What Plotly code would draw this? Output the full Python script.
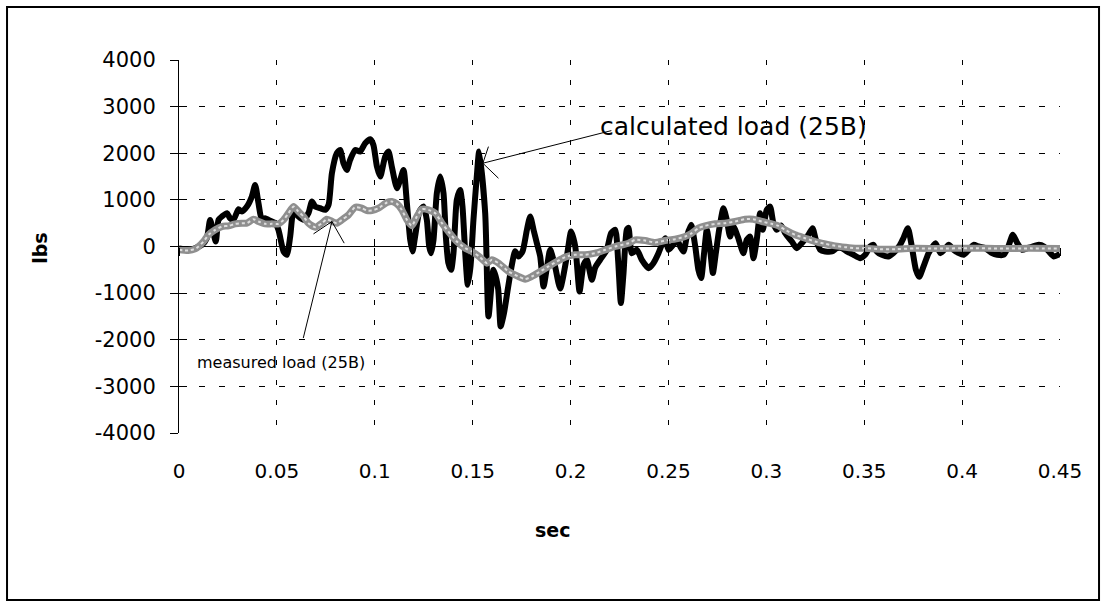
import plotly.graph_objects as go

# ---- data ----
calc_t = [0.000, 0.0066, 0.0117, 0.0142, 0.0159, 0.0176, 0.0188, 0.0202, 0.0219, 0.0245,
          0.0261, 0.0278, 0.0304, 0.0321, 0.0347, 0.0372, 0.0389, 0.0406, 0.0423, 0.0440,
          0.0457, 0.0474, 0.0491, 0.0508, 0.0534, 0.0551, 0.0568, 0.0585, 0.0610, 0.0636,
          0.0661, 0.0679, 0.0696, 0.0721, 0.0747, 0.0764, 0.0781, 0.0806, 0.0823, 0.0840,
          0.0857, 0.0874, 0.0900, 0.0925, 0.0951, 0.0977, 0.0993, 0.1011, 0.1028, 0.1053,
          0.1070, 0.1087, 0.1113, 0.1130, 0.1147, 0.1164, 0.1181, 0.1193, 0.1206, 0.1228,
          0.1249, 0.1266, 0.1278, 0.1288, 0.1300, 0.1317, 0.1334, 0.1351, 0.1363, 0.1376,
          0.1390, 0.1402, 0.1419, 0.1436, 0.1448, 0.1462, 0.1475, 0.1489, 0.1504, 0.1521,
          0.1533, 0.1564, 0.1581, 0.1606, 0.1630, 0.1643, 0.1660, 0.1680, 0.1700, 0.1717,
          0.1734, 0.1755, 0.1777, 0.1794, 0.1811, 0.1828, 0.1845, 0.1862, 0.1880, 0.1896,
          0.1921, 0.1947, 0.1981, 0.2003, 0.2024, 0.2046, 0.2066, 0.2083, 0.2109, 0.2126,
          0.2151, 0.2185, 0.2207, 0.2228, 0.2243, 0.2257, 0.2270, 0.2287, 0.2296, 0.2313,
          0.2339, 0.2364, 0.2398, 0.2423, 0.2449, 0.2466, 0.2483, 0.2500, 0.2517, 0.2543,
          0.2560, 0.2577, 0.2594, 0.2616, 0.2637, 0.2653, 0.2667, 0.2682, 0.2696, 0.2713,
          0.2727, 0.2742, 0.2759, 0.2781, 0.2798, 0.2815, 0.2832, 0.2854, 0.2883, 0.2900,
          0.2917, 0.2934, 0.2951, 0.2968, 0.2982, 0.3002, 0.3019, 0.3036, 0.3054, 0.3075,
          0.3096, 0.3130, 0.3156, 0.3181, 0.3215, 0.3236, 0.3253, 0.3275, 0.3301, 0.3335,
          0.3360, 0.3386, 0.3411, 0.3445, 0.3479, 0.3505, 0.3530, 0.3547, 0.3564, 0.3590,
          0.3624, 0.3649, 0.3683, 0.3700, 0.3723, 0.3743, 0.3764, 0.3781, 0.3803, 0.3829,
          0.3864, 0.3889, 0.3915, 0.3932, 0.3957, 0.3983, 0.4008, 0.4034, 0.4059, 0.4085,
          0.4119, 0.4153, 0.4179, 0.4213, 0.4236, 0.4259, 0.4282, 0.4307, 0.4333, 0.4358,
          0.4392, 0.4418, 0.4443, 0.4469, 0.4500]
calc_load = [-40, -57, 36, 178, 571, 286, 107, 571, 643, 714,
             607, 571, 800, 750, 857, 1071, 1321, 928, 571, 607,
             571, 536, 500, 357, -107, -178, 214, 750, 643, 571,
             714, 964, 857, 821, 786, 893, 1571, 2000, 2071, 1786,
             1643, 1857, 2071, 2036, 2214, 2300, 2178, 1714, 1500, 1928,
             2036, 1714, 1250, 1428, 1643, 928, 143, -107, 214, 750,
             857, 571, 0, -143, 143, 1143, 1500, 1143, 214, -357,
             -500, -143, 1000, 1214, 857, -143, -821, -428, 571, 1500,
             2036, 714, -1500, -500, -900, -1714, -1428, -900, -400, -100,
             -214, -100, 357, 643, 357, 71, -214, -857, -428, -71,
             -428, -900, -214, 321, 0, -964, -400, -286, -714, -450,
             -286, -71, 286, 357, -300, -1214, -600, 357, 400, -143,
             -71, -286, -464, -357, -143, 36, 178, -71, 0, 143,
             0, -107, 214, 464, 0, -500, -678, -143, 357, -71,
             -571, -143, 357, 821, 571, 214, 428, 214, -143, 143,
             214, -250, 143, 714, 357, 786, 857, 500, 357, 450,
             286, 107, -36, 71, 250, 393, 143, -71, -107, -107,
             -36, -36, -107, -178, -250, -178, 0, 36, -107, -178,
             -214, -143, 36, 178, 393, 0, -500, -650, -428, -143,
             71, -143, -36, 36, -71, -143, -178, -71, 36, 0,
             -36, -143, -178, -178, 0, 250, 71, -71, -36, 0,
             36, 0, -107, -214, -160]

meas_t = [0.000, 0.0047, 0.0083, 0.0100, 0.0125, 0.0151, 0.0185, 0.0219, 0.0253, 0.0287,
          0.0321, 0.0347, 0.0380, 0.0406, 0.0440, 0.0474, 0.0508, 0.0534, 0.0559, 0.0585,
          0.0610, 0.0636, 0.0661, 0.0696, 0.0730, 0.0755, 0.0781, 0.0806, 0.0832, 0.0866,
          0.0900, 0.0934, 0.0960, 0.0985, 0.1019, 0.1062, 0.1087, 0.1113, 0.1138, 0.1164,
          0.1189, 0.1215, 0.1241, 0.1274, 0.1309, 0.1343, 0.1376, 0.1419, 0.1462, 0.1496,
          0.1533, 0.1573, 0.1598, 0.1632, 0.1683, 0.1734, 0.1768, 0.1802, 0.1845, 0.1887,
          0.1930, 0.1972, 0.2023, 0.2075, 0.2126, 0.2177, 0.2228, 0.2296, 0.2330, 0.2381,
          0.2432, 0.2483, 0.2534, 0.2585, 0.2619, 0.2653, 0.2687, 0.2738, 0.2789, 0.2840,
          0.2891, 0.2934, 0.2977, 0.3028, 0.3062, 0.3096, 0.3147, 0.3198, 0.3249, 0.3301,
          0.3352, 0.3403, 0.3454, 0.3505, 0.3581, 0.3658, 0.3760, 0.3889, 0.4042, 0.4194,
          0.4347, 0.4500]
meas_load = [-70, -86, -50, 0, 107, 250, 357, 428, 443, 486,
             500, 500, 586, 536, 486, 486, 486, 571, 714, 857,
             750, 643, 500, 414, 500, 586, 540, 500, 571, 678,
             843, 821, 771, 771, 821, 943, 964, 914, 786, 571,
             443, 643, 800, 786, 714, 500, 321, 107, -36, -107,
             -214, -357, -286, -357, -536, -643, -700, -643, -536, -428,
             -321, -228, -178, -178, -143, -71, 0, 71, 143, 128,
             86, 128, 157, 214, 286, 393, 443, 486, 500, 536,
             586, 586, 536, 486, 443, 357, 250, 178, 107, 57,
             14, -14, -36, -36, -57, -57, -40, -45, -35, -45,
             -40, -45]

x_ticks = [0, 0.05, 0.1, 0.15, 0.2, 0.25, 0.3, 0.35, 0.4, 0.45]
x_labels = ["0", "0.05", "0.1", "0.15", "0.2", "0.25", "0.3", "0.35", "0.4", "0.45"]
y_ticks = [-4000, -3000, -2000, -1000, 0, 1000, 2000, 3000, 4000]
y_labels = ["-4000", "-3000", "-2000", "-1000", "0", "1000", "2000", "3000", "4000"]

calc_name = "calculated load (25B)"
meas_name = "measured load (25B)"

FONT = "DejaVu Sans"
X_RANGE = [0, 0.45]
Y_RANGE = [-4000, 4000]

fig = go.Figure()
fig.add_trace(go.Scatter(x=calc_t, y=calc_load, mode="lines", name=calc_name,
                         line=dict(color="black", width=6, shape="spline", smoothing=0.6),
                         showlegend=False))
fig.add_trace(go.Scatter(x=meas_t, y=meas_load, mode="lines", name=meas_name,
                         line=dict(color="#8f8f8f", width=7, shape="spline", smoothing=0.6),
                         showlegend=False))
fig.add_trace(go.Scatter(x=meas_t, y=meas_load, mode="lines", name=meas_name,
                         line=dict(color="#dedede", width=2, dash="dot", shape="spline", smoothing=0.6),
                         showlegend=False, hoverinfo="skip"))
# empty helper traces so the overlaid tick-only axes are drawn
fig.add_trace(go.Scatter(x=[None], y=[None], xaxis="x2", yaxis="y", mode="lines",
                         showlegend=False, hoverinfo="skip"))
fig.add_trace(go.Scatter(x=[None], y=[None], xaxis="x3", yaxis="y", mode="lines",
                         showlegend=False, hoverinfo="skip"))
fig.add_trace(go.Scatter(x=[None], y=[None], xaxis="x", yaxis="y2", mode="lines",
                         showlegend=False, hoverinfo="skip"))

fig.update_layout(
    width=1103, height=603,
    margin=dict(l=179, r=43, t=60, b=170),
    paper_bgcolor="white", plot_bgcolor="white",
    font=dict(family=FONT, size=21, color="black"),
    xaxis=dict(range=X_RANGE, tickvals=x_ticks, ticktext=x_labels,
               showgrid=True, gridcolor="black", gridwidth=1, griddash="5px,15px",
               zeroline=False, showline=False, ticks="", ticklabelstandoff=24,
               tickfont=dict(family=FONT, size=20)),
    yaxis=dict(range=Y_RANGE, tickvals=y_ticks, ticktext=y_labels,
               showgrid=True, gridcolor="black", gridwidth=1, griddash="6px,14px",
               zeroline=True, zerolinecolor="black", zerolinewidth=1,
               showline=True, linecolor="black", linewidth=1,
               ticks="outside", ticklen=8, tickcolor="black", ticklabelstandoff=10,
               tickfont=dict(family=FONT, size=21)),
    yaxis2=dict(range=Y_RANGE, tickvals=y_ticks, overlaying="y", anchor="x", side="left",
                showgrid=False, zeroline=False, showline=False, showticklabels=False,
                ticks="inside", ticklen=8, tickcolor="black"),
    xaxis2=dict(range=X_RANGE, tickvals=x_ticks, overlaying="x", anchor="free", position=0.5,
                showgrid=False, zeroline=False, showline=False, showticklabels=False,
                ticks="outside", ticklen=8, tickcolor="black"),
    xaxis3=dict(range=X_RANGE, tickvals=x_ticks, overlaying="x", anchor="free", position=0.5,
                showgrid=False, zeroline=False, showline=False, showticklabels=False,
                ticks="inside", ticklen=8, tickcolor="black"),
)

# axis titles
fig.add_annotation(text="<b>lbs</b>", xref="paper", yref="paper", x=-0.158, y=0.496,
                   xanchor="center", yanchor="middle",
                   showarrow=False, textangle=-90, font=dict(family=FONT, size=19))
fig.add_annotation(text="<b>sec</b>", xref="paper", yref="paper", x=0.4245, y=-0.26,
                   xanchor="center", yanchor="middle",
                   showarrow=False, font=dict(family=FONT, size=19))

# series labels with leader lines
fig.add_annotation(text=calc_name, xref="paper", yref="paper", x=0.4756, y=0.8204,
                   xanchor="left", yanchor="middle", showarrow=False,
                   font=dict(family=FONT, size=25))
fig.add_annotation(text=meas_name, xref="paper", yref="paper", x=0.0182, y=0.1903,
                   xanchor="left", yanchor="middle", showarrow=False,
                   font=dict(family=FONT, size=16))

calc_tip = (0.1552, 1786)
meas_tip = (0.0781, 535)
fig.add_annotation(x=calc_tip[0], y=calc_tip[1], ax=130, ay=-33, text="",
                   showarrow=True, arrowhead=0, arrowwidth=1, arrowcolor="black")
fig.add_annotation(x=meas_tip[0], y=meas_tip[1], ax=-29, ay=118, text="",
                   showarrow=True, arrowhead=0, arrowwidth=1, arrowcolor="black")
for tip, legs in ((calc_tip, [(5.6, 16.6), (15.6, -15)]),
                  (meas_tip, [(-18.4, -12.3), (12.3, -21.6)])):
    for dx, dy in legs:
        fig.add_shape(type="line", xref="x", yref="y",
                      xsizemode="pixel", ysizemode="pixel",
                      xanchor=tip[0], yanchor=tip[1],
                      x0=0, y0=0, x1=dx, y1=dy,
                      line=dict(color="black", width=1))

# outer frame of the chart
fig.add_shape(type="rect", xref="paper", yref="paper",
              x0=-0.1952, x1=1.0443, y0=-0.4477, y1=1.1421,
              line=dict(color="black", width=2), fillcolor="rgba(0,0,0,0)", layer="below")

fig.write_html("out.html", config={"displayModeBar": False},
               post_script="document.body.style.margin='0';")
